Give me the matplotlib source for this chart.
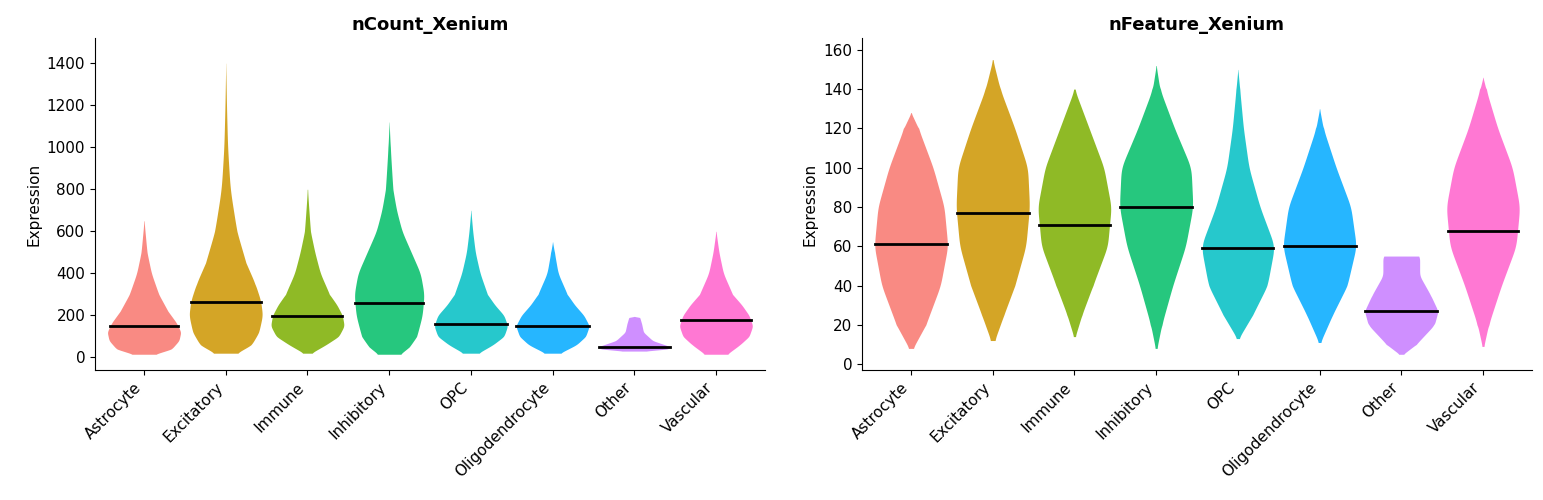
import numpy as np
import matplotlib.pyplot as plt

cells = ['Astrocyte', 'Excitatory', 'Immune', 'Inhibitory', 'OPC',
         'Oligodendrocyte', 'Other', 'Vascular']
colors = ['#F8766D', '#CD9600', '#7CAE00', '#00BE67', '#00BFC4',
          '#00A9FF', '#C77CFF', '#FF61CC']

# violin outlines: (y levels, relative half-width)
count_y = [
    [15, 40, 80, 120, 160, 220, 300, 400, 500, 650],
    [20, 60, 120, 200, 270, 350, 450, 600, 800, 1000, 1200, 1400],
    [20, 60, 100, 150, 200, 250, 300, 400, 500, 600, 800],
    [15, 50, 100, 200, 300, 400, 500, 600, 700, 800, 1000, 1120],
    [20, 60, 100, 150, 200, 250, 300, 400, 500, 600, 700],
    [20, 60, 100, 150, 200, 250, 300, 400, 500, 550],
    [30, 40, 50, 80, 120, 160, 190, 195],
    [15, 60, 100, 150, 200, 250, 300, 400, 500, 600],
]
count_w = [
    [0.3, 0.75, 0.95, 1.0, 0.9, 0.65, 0.4, 0.2, 0.08, 0],
    [0.3, 0.7, 0.9, 1.0, 0.95, 0.8, 0.55, 0.3, 0.12, 0.05, 0.02, 0],
    [0.1, 0.5, 0.85, 1.0, 0.95, 0.8, 0.6, 0.35, 0.2, 0.08, 0],
    [0.3, 0.55, 0.75, 0.9, 0.95, 0.85, 0.6, 0.35, 0.2, 0.1, 0.03, 0],
    [0.2, 0.6, 0.9, 1.0, 0.9, 0.65, 0.45, 0.25, 0.12, 0.05, 0],
    [0.2, 0.65, 0.9, 1.0, 0.85, 0.6, 0.4, 0.15, 0.05, 0],
    [0.3, 0.9, 1.0, 0.5, 0.25, 0.2, 0.15, 0],
    [0.3, 0.65, 0.9, 1.0, 0.9, 0.7, 0.45, 0.2, 0.08, 0],
]
count_med = [150, 265, 195, 260, 160, 150, 50, 180]

feat_y = [
    [8, 20, 40, 60, 80, 100, 120, 128],
    [12, 25, 40, 60, 80, 100, 120, 140, 155],
    [14, 25, 40, 60, 80, 100, 120, 140],
    [8, 20, 40, 60, 80, 100, 120, 140, 152],
    [13, 25, 40, 60, 80, 100, 120, 140, 150],
    [11, 25, 40, 60, 80, 100, 120, 130],
    [5, 10, 20, 27, 35, 45, 55, 55.01],
    [9, 20, 40, 60, 80, 100, 120, 140, 146],
]
feat_w = [
    [0.05, 0.4, 0.8, 1.0, 0.9, 0.6, 0.2, 0],
    [0.05, 0.3, 0.6, 0.9, 1.0, 0.95, 0.6, 0.2, 0],
    [0.02, 0.2, 0.5, 0.9, 1.0, 0.8, 0.4, 0],
    [0.02, 0.15, 0.45, 0.8, 1.0, 0.95, 0.5, 0.1, 0],
    [0.02, 0.4, 0.8, 1.0, 0.6, 0.3, 0.15, 0.05, 0],
    [0.02, 0.35, 0.75, 1.0, 0.85, 0.45, 0.1, 0],
    [0.05, 0.4, 0.9, 1.0, 0.8, 0.5, 0.5, 0],
    [0.02, 0.15, 0.5, 0.9, 1.0, 0.8, 0.4, 0.08, 0],
]
feat_med = [61, 77, 71, 80, 59, 60, 27, 68]


def violins(ax, ys, ws, meds, title, ticks):
    for i, (y, w, m) in enumerate(zip(ys, ws, meds)):
        # interpolate on the index of the outline points, then smooth
        t = np.linspace(0, len(y) - 1, 400)
        yy = np.interp(t, np.arange(len(y)), y)
        ww = np.interp(t, np.arange(len(w)), w)
        k = np.hanning(41)
        k /= k.sum()
        ww = np.convolve(np.pad(ww, 20, mode='edge'), k, mode='valid')
        ww = ww * 0.45
        ax.fill_betweenx(yy, i + 1 - ww, i + 1 + ww, color=colors[i],
                         alpha=0.85, lw=0)
        wm = np.interp(m, yy, ww)
        ax.plot([i + 1 - wm, i + 1 + wm], [m, m], color='black', lw=2)
    ax.set_title(title, fontweight='bold', fontsize=13)
    ax.set_ylabel('Expression', fontsize=11)
    ax.set_xticks(range(1, 9))
    ax.set_xticklabels(cells, rotation=45, ha='right', fontsize=11)
    ax.set_yticks(ticks)
    ax.tick_params(labelsize=11)
    ax.set_xlim(0.4, 8.6)
    for s in ['top', 'right']:
        ax.spines[s].set_visible(False)


fig = plt.figure(figsize=(15.43, 5), dpi=100)
ax1 = fig.add_axes([95 / 1543, 130 / 500, 670 / 1543, 332 / 500])
ax2 = fig.add_axes([862 / 1543, 130 / 500, 670 / 1543, 332 / 500])
violins(ax1, count_y, count_w, count_med, 'nCount_Xenium', range(0, 1500, 200))
ax1.set_ylim(-60, 1520)
violins(ax2, feat_y, feat_w, feat_med, 'nFeature_Xenium', range(0, 170, 20))
ax2.set_ylim(-3, 166)
fig.savefig('out.png', dpi=100)
